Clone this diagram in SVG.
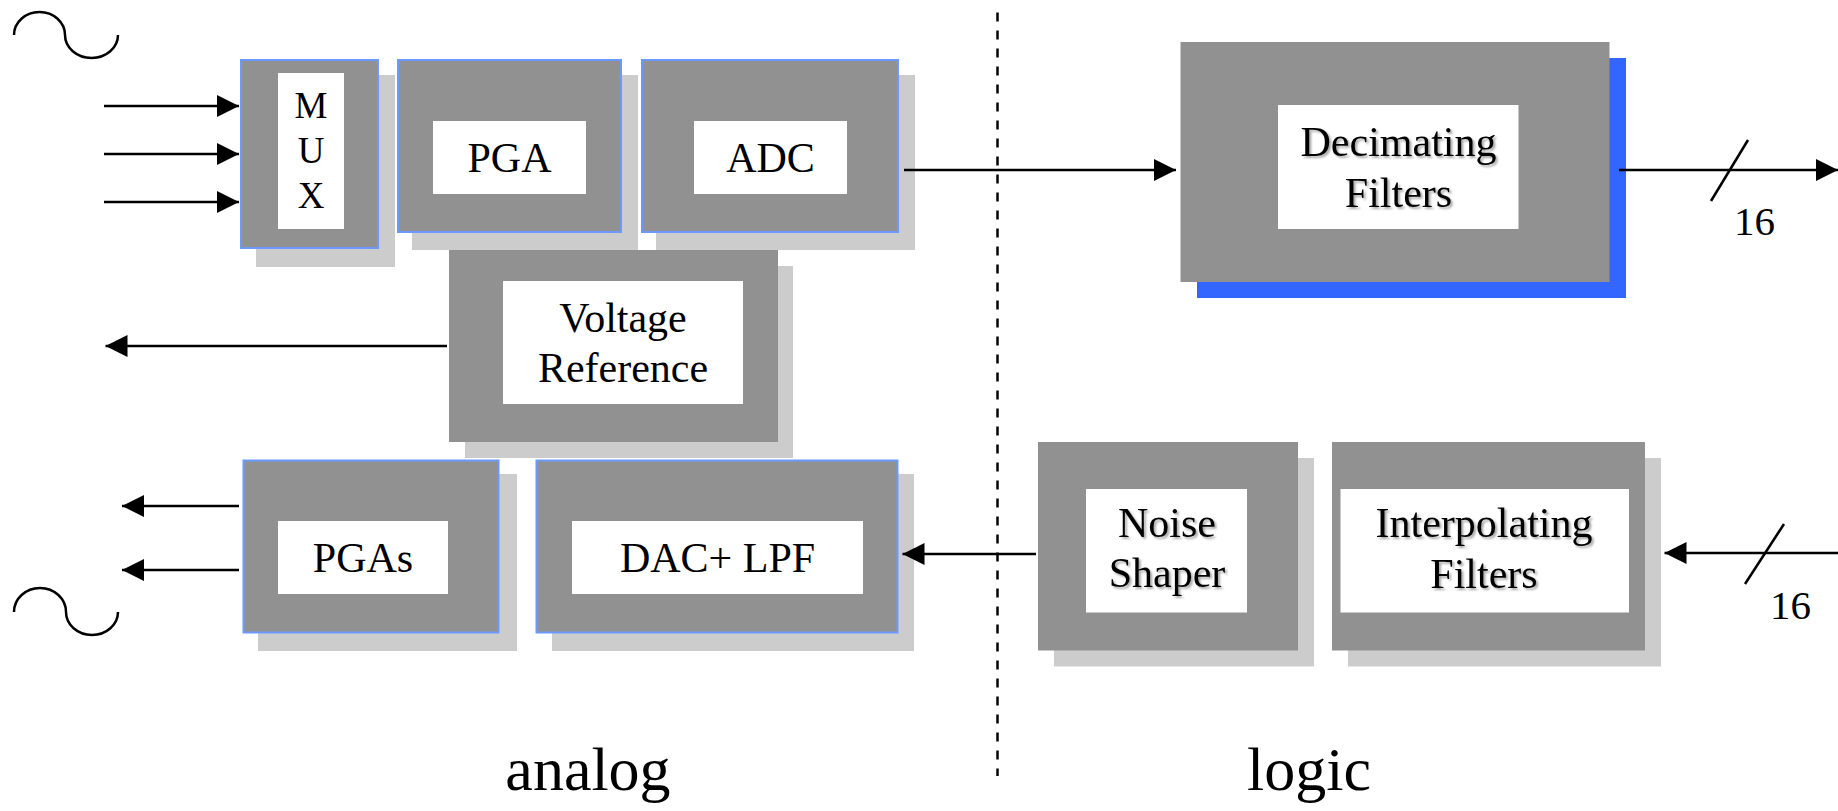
<svg xmlns="http://www.w3.org/2000/svg" width="1838" height="811" viewBox="0 0 1838 811">
<style>
.bg{fill:#ffffff}
.shadow{fill:#cccccc}
.bshadow{fill:#3366ff}
.box{fill:#919191}
.bbox{fill:#919191;stroke:#6b99ff;stroke-width:2}
.inner{fill:#ffffff}
.t{font-family:"Liberation Serif","Times New Roman",serif;fill:#000;text-anchor:middle}
.t42{font-size:42px}
.t36{font-size:37px}
.t38{font-size:41px}
.t60{font-size:62px}
.ts{filter:url(#tshadow)}
.wire{stroke:#000;stroke-width:2.5;fill:none}
.arr{marker-end:url(#ah)}
.dash{stroke:#000;stroke-width:2.5;stroke-dasharray:9 9;fill:none}
</style>
<defs>
<marker id="ah" viewBox="0 0 22 22" refX="22" refY="11" markerWidth="22" markerHeight="22" markerUnits="userSpaceOnUse" orient="auto">
<path d="M0,0 L22,11 L0,22 z" fill="#000"/>
</marker>
<filter id="tshadow" x="-10%" y="-20%" width="130%" height="150%">
<feDropShadow dx="2" dy="2" stdDeviation="0.8" flood-color="#000" flood-opacity="0.35"/>
</filter>
</defs>
<rect class="bg" x="0" y="0" width="1838" height="811"/>

<g id="mux">
<rect class="shadow" x="256" y="75" width="139" height="192"/>
<rect class="bbox" x="241" y="60" width="137" height="188"/>
<rect class="inner" x="278" y="73" width="66" height="156"/>
<text class="t t36" x="311" y="118">M</text>
<text class="t t36" x="311" y="163">U</text>
<text class="t t36" x="311" y="208">X</text>
</g>

<g id="pga">
<rect class="shadow" x="412" y="75" width="226" height="175"/>
<rect class="bbox" x="398" y="60" width="223" height="172"/>
<rect class="inner" x="433" y="121" width="153" height="73"/>
<text class="t t42" x="509.5" y="172">PGA</text>
</g>

<g id="adc">
<rect class="shadow" x="656" y="75" width="259" height="175"/>
<rect class="bbox" x="642" y="60" width="256" height="172"/>
<rect class="inner" x="694" y="121" width="153" height="73"/>
<text class="t t42" x="770.5" y="172">ADC</text>
</g>

<g id="vref">
<rect class="shadow" x="465" y="266" width="328" height="192"/>
<rect class="box" x="449" y="250" width="329" height="192"/>
<rect class="inner" x="503" y="281" width="240" height="123"/>
<text class="t t42" x="623" y="332">Voltage</text>
<text class="t t42" x="623" y="382">Reference</text>
</g>

<g id="pgas">
<rect class="shadow" x="258" y="474" width="259" height="177"/>
<rect class="bbox" x="243.5" y="460.5" width="255" height="172"/>
<rect class="inner" x="278" y="521" width="170" height="73"/>
<text class="t t42" x="363" y="572">PGAs</text>
</g>

<g id="dac">
<rect class="shadow" x="552" y="474" width="362" height="177"/>
<rect class="bbox" x="536.5" y="460.5" width="361" height="172"/>
<rect class="inner" x="572" y="521" width="291" height="73"/>
<text class="t t42" x="717.5" y="572">DAC+ LPF</text>
</g>

<g id="decim">
<rect class="bshadow" x="1197" y="58" width="429" height="240"/>
<rect class="box" x="1180.5" y="42" width="429" height="240"/>
<rect class="inner" x="1278" y="105" width="240.5" height="124"/>
<text class="t t42 ts" x="1398.5" y="156">Decimating</text>
<text class="t t42 ts" x="1398.5" y="207">Filters</text>
</g>

<g id="noise">
<rect class="shadow" x="1054" y="458" width="260" height="208.5"/>
<rect class="box" x="1038" y="442" width="260" height="208.5"/>
<rect class="inner" x="1086" y="489" width="161" height="123.5"/>
<text class="t t42 ts" x="1167" y="537">Noise</text>
<text class="t t42 ts" x="1167" y="587">Shaper</text>
</g>

<g id="interp">
<rect class="shadow" x="1348" y="458" width="313" height="208.5"/>
<rect class="box" x="1332" y="442" width="313" height="208.5"/>
<rect class="inner" x="1340.5" y="489" width="288.5" height="123.5"/>
<text class="t t42 ts" x="1484" y="537">Interpolating</text>
<text class="t t42 ts" x="1484" y="588">Filters</text>
</g>

<g id="connectors">
<path class="wire" d="M14,35 A25.5,23 0 0 1 65,35 A26.5,23 0 0 0 118,35"/>
<path class="wire" d="M14,612 A26,24 0 0 1 66,612 A26,23 0 0 0 118,612"/>
<line class="wire arr" x1="104" y1="106" x2="239" y2="106"/>
<line class="wire arr" x1="104" y1="154" x2="239" y2="154"/>
<line class="wire arr" x1="104" y1="202" x2="239" y2="202"/>
<line class="wire arr" x1="904" y1="170" x2="1176" y2="170"/>
<line class="wire arr" x1="1619" y1="170" x2="1838" y2="170"/>
<line class="wire" x1="1711" y1="201" x2="1748" y2="140"/>
<line class="wire arr" x1="447" y1="346" x2="105.5" y2="346"/>
<line class="wire arr" x1="239" y1="506" x2="122" y2="506"/>
<line class="wire arr" x1="239" y1="570" x2="122" y2="570"/>
<line class="wire arr" x1="1036" y1="554" x2="902.5" y2="554"/>
<line class="wire arr" x1="1838" y1="553" x2="1664.5" y2="553"/>
<line class="wire" x1="1745" y1="584" x2="1784" y2="524"/>
<line class="dash" x1="997.5" y1="12.5" x2="997.5" y2="776"/>
</g>

<g id="labels">
<text class="t t38" x="1754.5" y="235">16</text>
<text class="t t38" x="1790.5" y="619">16</text>
<text class="t t60" x="588" y="790">analog</text>
<text class="t t60" x="1309" y="790">logic</text>
</g>
</svg>
